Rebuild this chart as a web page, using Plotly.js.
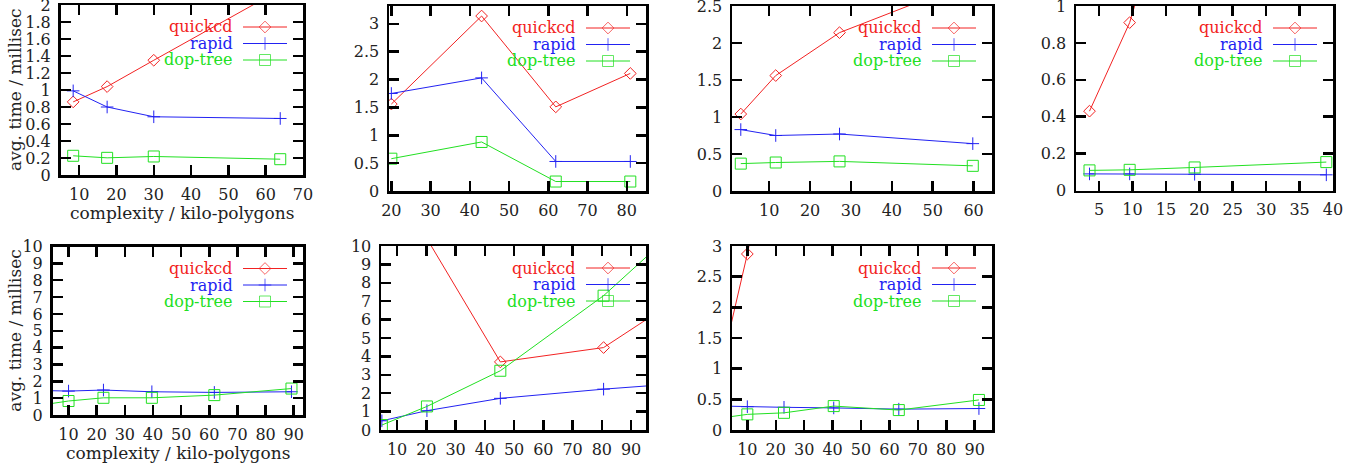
<!DOCTYPE html>
<html><head><meta charset="utf-8">
<script src="https://cdn.plot.ly/plotly-3.0.1.min.js"></script>
<style>html,body{margin:0;padding:0;background:#fff}#chart{width:1367px;height:466px}</style>
</head><body><div id="chart"></div>
<script>
// ---- data ----
const seriesNames = ['quickcd', 'rapid', 'dop-tree'];

// panel a (top row, 1st)
const xA = [8.4, 17.5, 30.0, 63.9];
const quickcdA = [0.86, 1.04, 1.35, 2.18];
const rapidA = [0.99, 0.80, 0.685, 0.665];
const dopTreeA = [0.226, 0.202, 0.218, 0.186];

// panel b (top row, 2nd)
const xB = [20.0, 43.0, 61.9, 80.9];
const quickcdB = [1.56, 3.14, 1.51, 2.11];
const rapidB = [1.75, 2.03, 0.53, 0.53];
const dopTreeB = [0.58, 0.88, 0.17, 0.17];

// panel c (top row, 3rd)
const xC = [3.05, 11.6, 27.2, 59.8];
const quickcdC = [1.04, 1.56, 2.14, 2.84];
const rapidC = [0.83, 0.75, 0.77, 0.64];
const dopTreeC = [0.37, 0.385, 0.40, 0.34];

// panel d (top row, 4th)
const xD = [3.57, 9.58, 19.3, 39.0];
const quickcdD = [0.43, 0.91, 2.1, 4.5];
const rapidD = [0.09, 0.09, 0.088, 0.085];
const dopTreeD = [0.109, 0.112, 0.125, 0.154];

// panel e (bottom row, 1st)
const xE = [1.5, 10, 22.4, 39.6, 61.8, 89.2];
const quickcdE = [null, null, null, null, null, null];
const rapidE = [1.45, 1.42, 1.48, 1.38, 1.34, 1.38];
const dopTreeE = [0.62, 0.83, 1.02, 1.02, 1.18, 1.57];

// panel f (bottom row, 2nd)
const xF = [4.8, 20.2, 45.3, 80.6, 100];
const quickcdF = [null, 10.4, 3.7, 4.48, 6.5];
const rapidF = [0.5, 1.05, 1.72, 2.22, 2.45];
const dopTreeF = [0.27, 1.28, 3.22, 7.3, 10.1];

// panel g (bottom row, 3rd)
const xG = [1.5, 10, 22.9, 40.4, 63.3, 91.5];
const quickcdG = [1.17, 2.87, 5.8, null, null, null];
const rapidG = [0.39, 0.38, 0.37, 0.36, 0.34, 0.35];
const dopTreeG = [0.20, 0.255, 0.28, 0.39, 0.325, 0.49];

const xTitleText = 'complexity / kilo-polygons';
const yTitleText = 'avg. time / millisec';

// ---- layout / style ----
const W = 1367, H = 466;
const FONT = 'DejaVu Serif';
const colors = ['#f22222', '#2222f2', '#22e022'];
const symbols = ['diamond-open', 'cross-thin-open', 'square-open'];
const msizes = [9, 9, 11];

const panels = [
  {box: [60.5, 303, 5, 175],   xr: [5, 70],     yr: [0, 2],    xd: 10, yd: 0.2, x: xA, ys: [quickcdA, rapidA, dopTreeA], titles: true},
  {box: [389, 646, 6, 191],    xr: [19.4, 84.9], yr: [0, 3.32], xd: 10, yd: 0.5, x: xB, ys: [quickcdB, rapidB, dopTreeB]},
  {box: [732, 992, 6, 191],    xr: [0.9, 64.5], yr: [0, 2.5],  xd: 10, yd: 0.5, x: xC, ys: [quickcdC, rapidC, dopTreeC]},
  {box: [1076, 1333, 6, 190.5], xr: [1.55, 40], yr: [0, 1],    xd: 5,  yd: 0.2, x: xD, ys: [quickcdD, rapidD, dopTreeD]},
  {box: [52.5, 303, 246.5, 415], xr: [4.3, 93.3], yr: [0, 10], xd: 10, yd: 1,   x: xE, ys: [quickcdE, rapidE, dopTreeE], titles: true},
  {box: [381, 646, 246, 430],  xr: [4.5, 95.1], yr: [0, 10],   xd: 10, yd: 1,   x: xF, ys: [quickcdF, rapidF, dopTreeF]},
  {box: [732, 992, 246, 430],  xr: [4.6, 96.1], yr: [0, 3],    xd: 10, yd: 0.5, x: xG, ys: [quickcdG, rapidG, dopTreeG]}
];

const traces = [];
const annotations = [];
const layout = {
  width: W, height: H,
  margin: {l: 0, r: 0, t: 0, b: 0, pad: 0},
  paper_bgcolor: '#fff', plot_bgcolor: 'rgba(0,0,0,0)',
  showlegend: false,
  font: {family: FONT, size: 16, color: '#222'}
};

function axisCommon() {
  return {
    showgrid: false, zeroline: false, showline: true, mirror: 'ticks',
    linecolor: '#000', linewidth: 2.5, ticks: 'inside', ticklen: 10, tickwidth: 2.5,
    tickcolor: '#000', tickfont: {family: FONT, size: 16, color: '#222'},
    fixedrange: true, tick0: 0, ticklabeloverflow: 'allow'
  };
}

// legend sample overlay axes in pixel units
const LX = 'x8', LY = 'y8';
layout.xaxis8 = {domain: [0, 1], range: [0, W], visible: false, fixedrange: true, anchor: 'y8'};
layout.yaxis8 = {domain: [0, 1], range: [H, 0], visible: false, fixedrange: true, anchor: 'x8'};

panels.forEach((p, i) => {
  const n = i + 1;
  const [l, r, t, b] = p.box;
  const xa = Object.assign(axisCommon(), {
    domain: [l / W, r / W], range: p.xr, dtick: p.xd, anchor: 'y' + n, ticklabelstandoff: 3
  });
  const ya = Object.assign(axisCommon(), {
    domain: [1 - b / H, 1 - t / H], range: p.yr, dtick: p.yd, anchor: 'x' + n, ticklabelstandoff: 4
  });
  layout['xaxis' + n] = xa;
  layout['yaxis' + n] = ya;

  p.ys.forEach((ys, s) => {
    traces.push({
      x: p.x, y: ys, xaxis: 'x' + n, yaxis: 'y' + n, type: 'scatter',
      mode: 'lines+markers', name: seriesNames[s], connectgaps: false,
      line: {color: colors[s], width: 1},
      marker: {symbol: symbols[s], size: msizes[s], color: colors[s], line: {color: colors[s], width: 1}},
      hoverinfo: 'skip'
    });
    // legend: text + sample (line with marker in the middle)
    const rowY = t + 22 + 16.5 * s;
    annotations.push({
      xref: 'paper', yref: 'paper', x: (r - 68) / W, y: 1 - rowY / H,
      xanchor: 'right', yanchor: 'middle', showarrow: false,
      text: seriesNames[s], font: {family: FONT, size: 16, color: colors[s]}
    });
    traces.push({
      x: [r - 60, r - 38, r - 16], y: [rowY, rowY, rowY], xaxis: LX, yaxis: LY, type: 'scatter',
      mode: 'lines+markers', line: {color: colors[s], width: 1},
      marker: {symbol: symbols[s], size: [0, msizes[s], 0], color: colors[s], line: {color: colors[s], width: 1}},
      hoverinfo: 'skip', showlegend: false
    });
  });

  if (p.titles) {
    annotations.push({
      xref: 'paper', yref: 'paper', x: ((l + r) / 2) / W, y: 1 - (b + 38) / H,
      xanchor: 'center', yanchor: 'middle', showarrow: false,
      text: xTitleText, font: {family: FONT, size: 17, color: '#222'}
    });
    annotations.push({
      xref: 'paper', yref: 'paper', x: 15 / W, y: 1 - ((t + b) / 2) / H,
      xanchor: 'center', yanchor: 'middle', showarrow: false, textangle: -90,
      text: yTitleText, font: {family: FONT, size: 17, color: '#222'}
    });
  }
});

layout.annotations = annotations;
Plotly.newPlot('chart', traces, layout, {staticPlot: true, displayModeBar: false});
</script>
</body></html>
